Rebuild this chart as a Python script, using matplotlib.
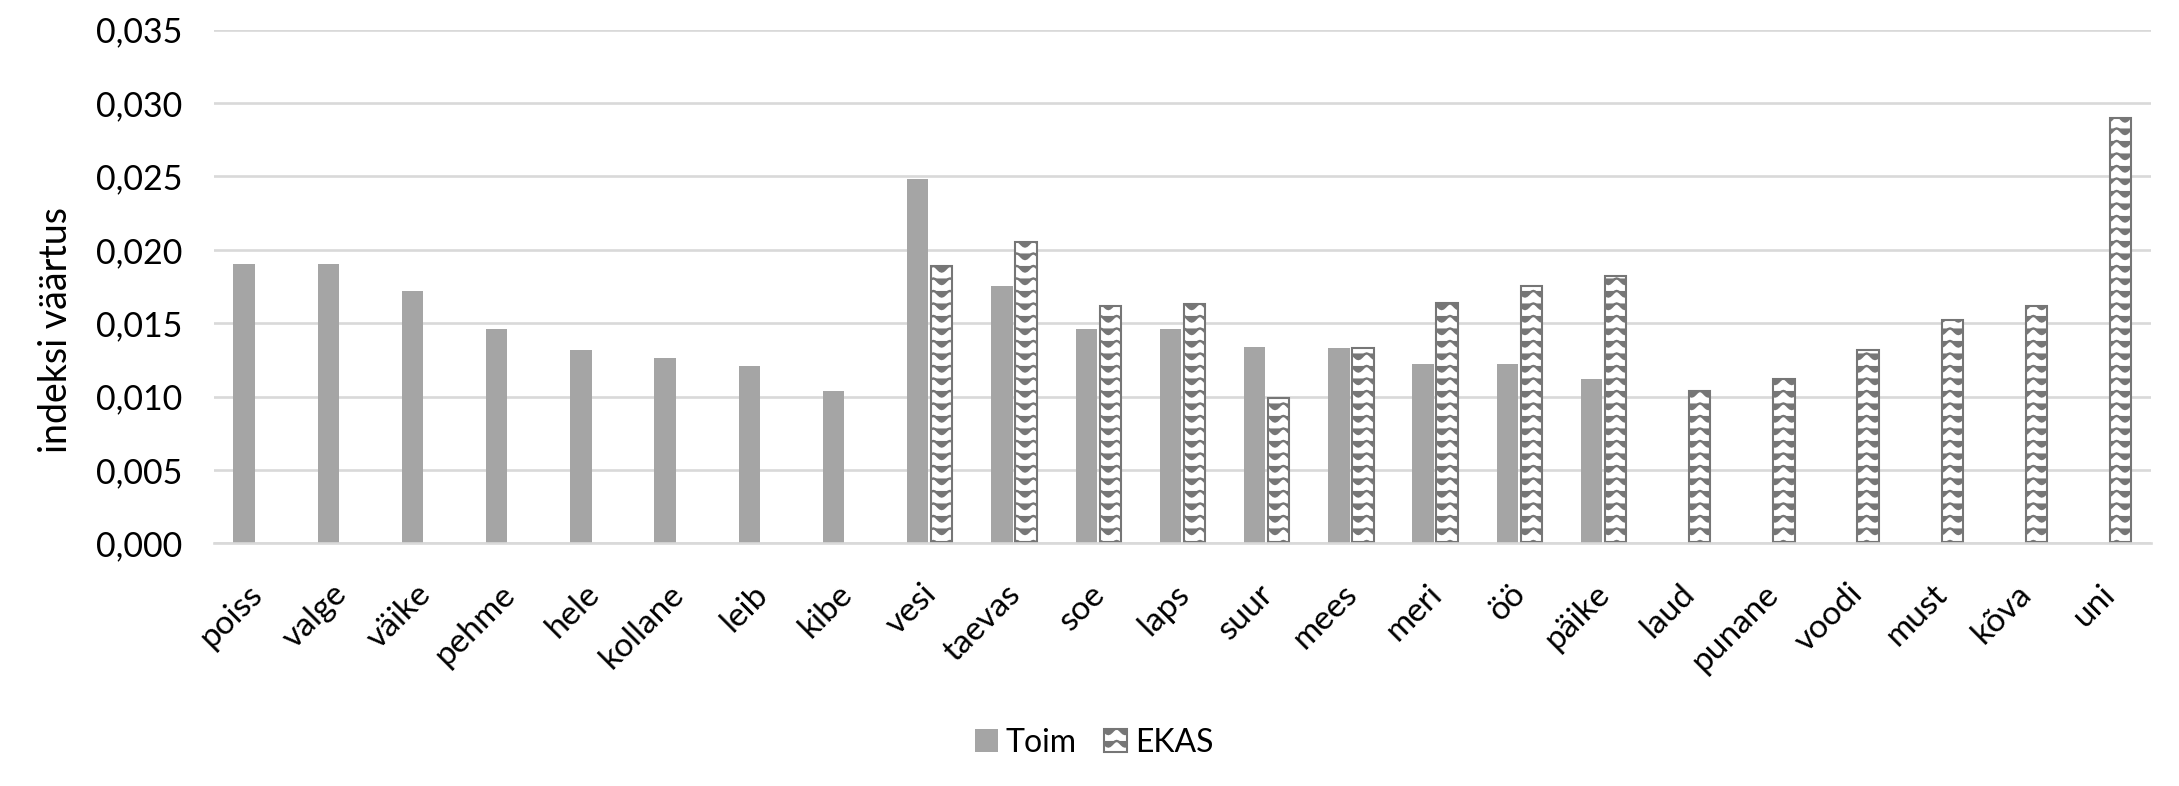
import warnings
import numpy as np
import matplotlib
matplotlib.use("Agg")
import matplotlib.pyplot as plt
import matplotlib.hatch as mhatch
import matplotlib.transforms as mtransforms
from matplotlib.path import Path

warnings.filterwarnings("ignore")

words = ["poiss", "valge", "väike", "pehme", "hele", "kollane", "leib", "kibe",
         "vesi", "taevas", "soe", "laps", "suur", "mees", "meri", "öö", "päike",
         "laud", "punane", "voodi", "must", "kõva", "uni"]
nan = np.nan
toim = [0.0190, 0.0190, 0.0172, 0.0146, 0.0132, 0.0126, 0.0121, 0.0104,
        0.0248, 0.0175, 0.0146, 0.0146, 0.0134, 0.0133, 0.0122, 0.0122, 0.0112,
        nan, nan, nan, nan, nan, nan]
ekas = [nan, nan, nan, nan, nan, nan, nan, nan,
        0.0189, 0.0205, 0.0162, 0.0163, 0.0099, 0.0133, 0.0164, 0.0175, 0.0182,
        0.0104, 0.0112, 0.0132, 0.0152, 0.0162, 0.0290]
yticks = [0.000, 0.005, 0.010, 0.015, 0.020, 0.025, 0.030, 0.035]

GREY = "#a5a5a5"
EDGE = "#767676"
GRID = "#d9d9d9"
FONT = "Lato"


# wave hatch, roughly like the office "wave" pattern
class WaveHatch(mhatch.HatchPatternBase):
    def __init__(self, hatch, density):
        self.rows = hatch.count("~") * 8
        self.waves = 6
        self.pts = self.waves * 10 + 1
        self.num_vertices = self.rows * self.pts

    def set_vertices_and_codes(self, vertices, codes):
        xs = np.linspace(0, 1, self.pts)
        k = 0
        for r in range(self.rows):
            y0 = (r + 0.5) / self.rows
            vertices[k:k + self.pts, 0] = xs
            vertices[k:k + self.pts, 1] = y0 + 0.028 * np.cos(2 * np.pi * self.waves * xs)
            codes[k] = Path.MOVETO
            codes[k + 1:k + self.pts] = Path.LINETO
            k += self.pts


mhatch._hatch_types.append(WaveHatch)

plt.rcParams["font.family"] = [FONT, "DejaVu Sans"]
plt.rcParams["hatch.linewidth"] = 1.7

fig = plt.figure(figsize=(21.79, 7.86), dpi=100)
ax = fig.add_axes([0.0982, 0.3087, 0.9871 - 0.0982, 0.9623 - 0.3087])

x = np.arange(len(words))
w = 0.253
off = 0.1425
ax.bar(x - off, toim, w, color=GREY, label="Toim", zorder=3)
ax.bar(x + off, ekas, w, color="white", edgecolor=EDGE, linewidth=1.5,
       hatch="~", label="EKAS", zorder=3)

ax.set_xlim(-0.5, len(words) - 0.5)
ax.set_ylim(0, 0.035)
ax.set_yticks(yticks)
ax.set_yticklabels([f"{v:.3f}".replace(".", ",") for v in yticks], fontsize=24.5)
ax.yaxis.grid(True, color=GRID, linewidth=1.9, zorder=0)
ax.tick_params(axis="y", length=0, pad=23)

ax.set_xticks(x)
ax.set_xticklabels(words, fontsize=24, rotation=45, ha="right", va="center",
                   rotation_mode="anchor")
ax.tick_params(axis="x", length=0, pad=0)
shift = mtransforms.ScaledTranslation(0.02, -0.46, fig.dpi_scale_trans)
for lbl in ax.get_xticklabels():
    lbl.set_transform(lbl.get_transform() + shift)

for s in ["top", "right", "left"]:
    ax.spines[s].set_visible(False)
ax.spines["bottom"].set_color(GRID)
ax.spines["bottom"].set_linewidth(1.9)
ax.spines["bottom"].set_zorder(4)

fig.text(56 / 2179, 1 - 330 / 786, "indeksi väärtus", rotation=90,
         ha="center", va="center", fontsize=27)

fig.legend(loc="center", bbox_to_anchor=(1094 / 2179, 1 - 743 / 786),
           ncol=2, frameon=False, fontsize=23, handlelength=0.72,
           handleheight=0.72, handletextpad=0.25, columnspacing=0.85,
           borderpad=0)

fig.savefig("out.png", dpi=100)
